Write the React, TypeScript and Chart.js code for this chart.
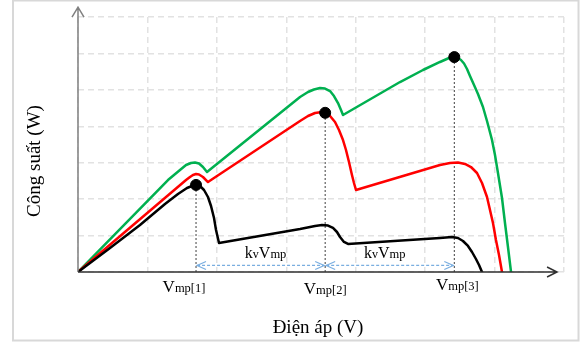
import React, { useEffect, useRef } from "react";
import { Chart, registerables } from "chart.js";

Chart.register(...registerables);

// Curves: x = voltage (grid units), y = power (grid units)
const greenX = [0, 1.296, 1.469, 1.556, 1.628, 1.685, 1.743, 1.800, 1.858, 3.198, 3.313, 3.399, 3.486, 3.558, 3.630, 3.687, 3.745, 3.788, 3.817, 4.638, 4.969, 5.214, 5.344, 5.416, 5.473, 5.516, 5.560, 5.603, 5.646, 5.704, 5.761, 5.833, 5.891, 5.963, 6.006, 6.049, 6.107, 6.150, 6.193, 6.237];
const greenY = [0, 2.525, 2.800, 2.937, 2.992, 3.006, 2.978, 2.882, 2.745, 4.804, 4.941, 5.010, 5.051, 5.037, 4.968, 4.831, 4.639, 4.447, 4.310, 5.215, 5.545, 5.765, 5.874, 5.902, 5.874, 5.819, 5.723, 5.572, 5.380, 5.133, 4.886, 4.529, 4.145, 3.623, 3.212, 2.718, 2.031, 1.345, 0.686, 0];

const redX = [0, 1.556, 1.613, 1.656, 1.700, 1.743, 1.800, 1.872, 3.198, 3.313, 3.414, 3.514, 3.558, 3.630, 3.702, 3.759, 3.817, 3.860, 3.903, 3.946, 3.975, 4.004, 5.214, 5.358, 5.473, 5.574, 5.660, 5.747, 5.819, 5.891, 5.934, 5.977, 6.020, 6.064, 6.107];
const redY = [0, 2.525, 2.608, 2.663, 2.690, 2.676, 2.608, 2.470, 4.145, 4.282, 4.365, 4.392, 4.378, 4.282, 4.118, 3.898, 3.623, 3.349, 3.020, 2.663, 2.443, 2.251, 2.937, 2.992, 3.006, 2.965, 2.882, 2.718, 2.443, 2.059, 1.702, 1.345, 0.878, 0.467, 0];

const blackX = [0, 0.461, 0.893, 1.253, 1.440, 1.570, 1.642, 1.700, 1.757, 1.815, 1.872, 1.916, 1.959, 1.988, 2.031, 3.198, 3.414, 3.514, 3.601, 3.673, 3.730, 3.774, 3.831, 3.889, 5.214, 5.387, 5.473, 5.545, 5.617, 5.675, 5.732, 5.776, 5.819];
const blackY = [0, 0.659, 1.290, 1.867, 2.141, 2.306, 2.361, 2.388, 2.361, 2.251, 2.059, 1.812, 1.482, 1.153, 0.796, 1.180, 1.263, 1.290, 1.276, 1.208, 1.098, 0.961, 0.824, 0.769, 0.933, 0.961, 0.933, 0.851, 0.714, 0.549, 0.357, 0.192, 0];

// Maximum power points
const vmpX = [1.70, 3.56, 5.42];
const vmpY = [2.39, 4.37, 5.90];
const vmpSub = ["mp[1]", "mp[2]", "mp[3]"];
const arrowY = 0.18;

const xTitle = "Điện áp (V)";
const yTitle = "Công suất (W)";

const pts = (xs: number[], ys: number[]) => xs.map((x, i) => ({ x, y: ys[i] }));

const SERIF = '"Liberation Serif", "Times New Roman", serif';

const decorPlugin = {
  id: "decor",
  beforeDraw(chart: any) {
    const ctx = chart.ctx;
    ctx.save();
    ctx.fillStyle = "#ffffff";
    ctx.fillRect(0, 0, chart.width, chart.height);
    ctx.strokeStyle = "#d8d8d8";
    ctx.lineWidth = 2;
    ctx.strokeRect(13, 0.5, 565.5, 340);
    ctx.restore();
  },
  afterDatasetsDraw(chart: any) {
    const ctx = chart.ctx;
    const xs = chart.scales.x;
    const ys = chart.scales.y;
    const x0 = xs.getPixelForValue(0);
    const y0 = ys.getPixelForValue(0);
    ctx.save();
    // y axis with arrow
    const yTop = ys.getPixelForValue(7.27);
    ctx.strokeStyle = "#808080";
    ctx.lineWidth = 1.5;
    ctx.beginPath();
    ctx.moveTo(x0, y0);
    ctx.lineTo(x0, yTop);
    ctx.moveTo(x0 - 6, yTop + 10);
    ctx.lineTo(x0, yTop);
    ctx.lineTo(x0 + 6, yTop + 10);
    ctx.stroke();
    // x axis with arrow
    const xEnd = xs.getPixelForValue(6.9);
    ctx.strokeStyle = "#303030";
    ctx.lineWidth = 1.5;
    ctx.beginPath();
    ctx.moveTo(x0, y0);
    ctx.lineTo(xEnd, y0);
    ctx.moveTo(xEnd - 10, y0 - 5);
    ctx.lineTo(xEnd, y0);
    ctx.lineTo(xEnd - 10, y0 + 5);
    ctx.stroke();

    // blue dashed double arrows
    const ay = ys.getPixelForValue(arrowY);
    ctx.strokeStyle = "#7aaee0";
    ctx.lineWidth = 1.2;
    for (let i = 0; i < vmpX.length - 1; i++) {
      const a = xs.getPixelForValue(vmpX[i]) + 1;
      const b = xs.getPixelForValue(vmpX[i + 1]) - 1;
      ctx.setLineDash([3, 2]);
      ctx.beginPath();
      ctx.moveTo(a, ay);
      ctx.lineTo(b, ay);
      ctx.stroke();
      ctx.setLineDash([]);
      ctx.beginPath();
      ctx.moveTo(a + 9, ay - 4);
      ctx.lineTo(a, ay);
      ctx.lineTo(a + 9, ay + 4);
      ctx.moveTo(b - 9, ay - 4);
      ctx.lineTo(b, ay);
      ctx.lineTo(b - 9, ay + 4);
      ctx.stroke();
    }

    ctx.fillStyle = "#000000";
    ctx.textBaseline = "alphabetic";
    // Vmp labels
    const offX = [-12, 0, 3];
    const offY = [0, 2, -2];
    for (let i = 0; i < vmpX.length; i++) {
      ctx.font = `17px ${SERIF}`;
      const wV = ctx.measureText("V").width;
      ctx.font = `12.5px ${SERIF}`;
      const wS = ctx.measureText(vmpSub[i]).width;
      const cx = xs.getPixelForValue(vmpX[i]) + offX[i];
      const left = cx - (wV + wS) / 2;
      const base = y0 + 20 + offY[i];
      ctx.font = `17px ${SERIF}`;
      ctx.fillText("V", left, base);
      ctx.font = `12.5px ${SERIF}`;
      ctx.fillText(vmpSub[i], left + wV, base);
    }
    // kvVmp labels
    const kOff = [5, -5];
    for (let i = 0; i < vmpX.length - 1; i++) {
      const parts: [string, number][] = [["k", 16], ["v", 12], ["V", 16], ["mp", 12.5]];
      let total = 0;
      const widths: number[] = [];
      for (const [t, s] of parts) {
        ctx.font = `${s}px ${SERIF}`;
        const w = ctx.measureText(t).width;
        widths.push(w);
        total += w;
      }
      const cx = (xs.getPixelForValue(vmpX[i]) + xs.getPixelForValue(vmpX[i + 1])) / 2 + kOff[i];
      let x = cx - total / 2;
      const base = y0 - 14;
      parts.forEach(([t, s], j) => {
        ctx.font = `${s}px ${SERIF}`;
        ctx.fillText(t, x, base);
        x += widths[j];
      });
    }

    // axis titles
    ctx.textAlign = "center";
    ctx.textBaseline = "middle";
    ctx.font = `19px ${SERIF}`;
    ctx.fillText(xTitle, 318, 328);
    ctx.translate(35, 161);
    ctx.rotate(-Math.PI / 2);
    ctx.fillText(yTitle, 0, 0);
    ctx.restore();
  },
};

export default function App() {
  const ref = useRef<HTMLCanvasElement | null>(null);
  useEffect(() => {
    if (!ref.current) return;
    const dropLines = vmpX.map((x, i) => ({
      data: [{ x, y: 0 }, { x, y: vmpY[i] }],
      borderColor: "#404040",
      borderWidth: 1,
      borderDash: [2, 2],
      pointRadius: 0,
      order: 5,
    }));
    const curve = (data: any, color: string, order: number) => ({
      data,
      borderColor: color,
      borderWidth: 2.5,
      pointRadius: 0,
      tension: 0,
      borderJoinStyle: "round",
      borderCapStyle: "round",
      order,
    });
    const chart = new Chart(ref.current, {
      type: "line",
      data: {
        datasets: [
          ...dropLines,
          curve(pts(greenX, greenY), "#00b050", 4),
          curve(pts(redX, redY), "#ff0000", 3),
          curve(pts(blackX, blackY), "#000000", 2),
          {
            data: pts(vmpX, vmpY),
            showLine: false,
            pointRadius: 5.5,
            pointBackgroundColor: "#000000",
            pointBorderColor: "#000000",
            order: 1,
          },
        ] as any,
      },
      options: {
        animation: false,
        responsive: true,
        maintainAspectRatio: false,
        events: [],
        layout: { padding: { left: 78, right: 24, top: 17, bottom: 73 } },
        plugins: { legend: { display: false }, tooltip: { enabled: false } },
        scales: {
          x: {
            type: "linear",
            min: 0,
            max: 7,
            ticks: { display: false, stepSize: 1 },
            grid: { color: "#e2e2e2", lineWidth: 1.5, drawTicks: false },
            border: { display: false, dash: [6, 4] },
          },
          y: {
            type: "linear",
            min: 0,
            max: 7,
            ticks: { display: false, stepSize: 1 },
            grid: { color: "#e2e2e2", lineWidth: 1.5, drawTicks: false },
            border: { display: false, dash: [6, 4] },
          },
        },
      },
      plugins: [decorPlugin],
    });
    return () => chart.destroy();
  }, []);
  return (
    <div style={{ position: "absolute", left: 0, top: 0, width: 588, height: 345 }}>
      <canvas ref={ref} />
    </div>
  );
}
